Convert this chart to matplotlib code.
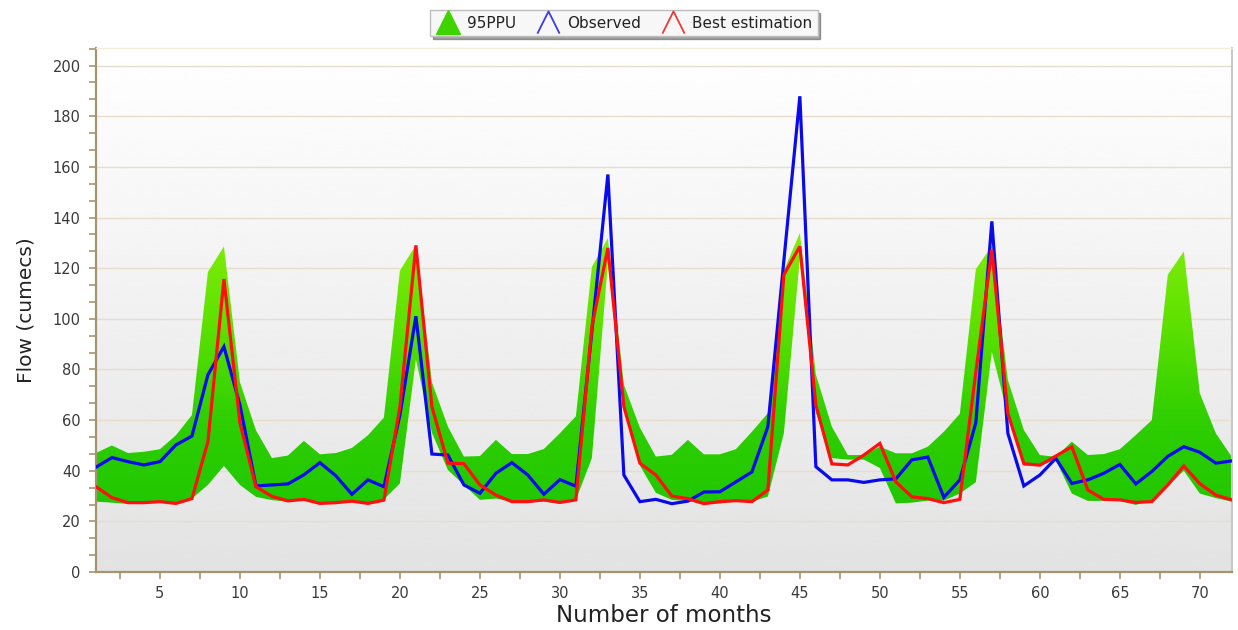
import numpy as np
import matplotlib
matplotlib.use("Agg")
import matplotlib.pyplot as plt
from matplotlib.path import Path
from matplotlib.lines import Line2D
from matplotlib.ticker import MultipleLocator
from matplotlib.colors import LinearSegmentedColormap

# Monthly flow (cumecs)
months = list(range(1, 73))

ppu_upper = [47, 50, 47, 47.5, 48.5, 54, 62, 118.5, 128.6, 75,
             56, 45, 46, 51.8, 46.5, 47, 49, 54, 61, 119,
             129.2, 75, 57.4, 45.6, 45.8, 52.2, 46.6, 46.6, 48.6, 54.8,
             61.5, 120.5, 131.9, 74, 57, 45.6, 46.3, 52.2, 46.5, 46.5,
             48.5, 55.4, 62.7, 119, 133.9, 78, 57.4, 46.2, 46.2, 49.5,
             46.9, 46.9, 49.5, 55.4, 62.5, 119.6, 128.8, 75.9, 56.1, 46.2,
             45.5, 51.5, 46.2, 46.6, 48.5, 54.1, 60, 117.4, 126.6, 70.6,
             54.8, 45.5]

ppu_lower = [27.8, 27.4, 26.9, 27, 27.5, 27.5, 29, 34.4, 41.9, 34.4,
             29.7, 28.4, 27.8, 28.4, 27, 27, 28, 27, 28.7, 35,
             84, 55, 40.3, 34.4, 28.5, 29, 27.8, 27.8, 27.8, 27,
             28.5, 45, 122, 65, 42, 31.3, 28.5, 28, 27, 27.1,
             27.8, 27.8, 29.8, 54.8, 124, 63, 45, 44.4, 44.4, 41.1,
             27.1, 27.4, 28.2, 28.2, 31, 35.5, 87, 62, 42, 42,
             44.2, 31, 28.1, 28.1, 28.1, 26.5, 28.5, 34, 40, 31,
             29.2, 27.8]

observed = [41.4, 45.2, 43.6, 42.3, 43.6, 50.2, 53.7, 77.9, 89, 66,
            34, 34.4, 34.8, 38.4, 43.2, 38, 30.7, 36.4, 33.7, 62,
            101, 46.6, 46.2, 34.4, 31.1, 39, 43.2, 38.3, 30.7, 36.5,
            33.9, 95, 157, 38.3, 27.8, 28.7, 27, 28, 31.6, 31.7,
            35.6, 39.5, 57.4, 123, 187.9, 41.6, 36.4, 36.4, 35.4, 36.4,
            36.8, 44.3, 45.4, 29.5, 36.4, 59, 138.5, 54.8, 34, 38.3,
            44.9, 35, 36.4, 39, 42.5, 34.8, 39.7, 45.7, 49.5, 47.3,
            43, 43.9]

best_estimation = [33.7, 29.4, 27.4, 27.4, 27.8, 27.1, 29, 51.5, 115.7, 58.9,
                   33.7, 29.9, 28.1, 28.7, 27.1, 27.4, 28, 27.1, 28.4, 65.3,
                   129, 65.3, 43, 42.8, 34.4, 30.4, 27.8, 27.8, 28.5, 27.5,
                   28.5, 97, 128, 65.3, 43, 38.3, 30, 29, 27, 27.8,
                   28.2, 27.8, 32.4, 117.4, 128.6, 66, 42.7, 42.3, 46.2, 50.8,
                   35.6, 29.7, 29, 27.4, 28.7, 79, 127.3, 62.7, 42.8, 42.2,
                   45.8, 49.5, 32.4, 28.7, 28.5, 27.5, 27.8, 34.4, 41.9, 34.9,
                   30.4, 28.5]

legend_labels = ["95PPU", "Observed", "Best estimation"]

X_MIN, X_MAX = 1, 72
Y_MIN, Y_MAX = 0, 207

tan = "#a8936f"
plt.rcParams["font.family"] = ["DejaVu Sans"]

fig = plt.figure(figsize=(12.38, 6.30), dpi=100)
fig.patch.set_facecolor("white")
ax = fig.add_axes([0.0775, 0.092, 0.9175, 0.832])

# Soft vertical background gradient
bg = np.linspace(0.89, 1.0, 256).reshape(-1, 1)
ax.imshow(bg, extent=[0, 1, 0, 1], transform=ax.transAxes, aspect="auto",
          origin="lower", cmap="gray", vmin=0, vmax=1, zorder=-10,
          interpolation="bicubic")

# Uncertainty band filled with a green gradient
band = ax.fill_between(months, ppu_lower, ppu_upper, facecolor="none",
                       edgecolor="none", zorder=1)
green_cmap = LinearSegmentedColormap.from_list(
    "band", ["#1ec600", "#2fcf00", "#60e200", "#88ef0c"])
grad = np.linspace(0, 1, 512).reshape(-1, 1)
img = ax.imshow(grad, extent=[X_MIN, X_MAX, 20, 140], aspect="auto",
                origin="lower", cmap=green_cmap, zorder=1,
                interpolation="bicubic")
img.set_clip_path(band.get_paths()[0], transform=ax.transData)
# lower part of band below 20 keeps bottom colour
img2 = ax.imshow(np.zeros((2, 2)), extent=[X_MIN, X_MAX, 0, 20],
                 aspect="auto", origin="lower", cmap=green_cmap, vmin=0,
                 vmax=1, zorder=1)
img2.set_clip_path(band.get_paths()[0], transform=ax.transData)

ax.plot(months, observed, color="#0a0aee", lw=2.3, zorder=3,
        solid_joinstyle="miter")
ax.plot(months, best_estimation, color="#ff0f0f", lw=2.3, zorder=4,
        solid_joinstyle="miter")

ax.set_xlim(X_MIN, X_MAX)
ax.set_ylim(Y_MIN, Y_MAX)

ax.xaxis.set_major_locator(MultipleLocator(5))
ax.xaxis.set_minor_locator(MultipleLocator(2.5))
ax.yaxis.set_major_locator(MultipleLocator(20))
ax.yaxis.set_minor_locator(MultipleLocator(20 / 3))

ax.set_axisbelow(True)
ax.grid(axis="y", which="major", color="#e8dccb", lw=1.0, zorder=0.5)

for side in ("left", "bottom"):
    ax.spines[side].set_color(tan)
    ax.spines[side].set_linewidth(1.6)
ax.spines["right"].set_color("#c8c8c8")
ax.spines["right"].set_linewidth(1.5)
ax.spines["top"].set_color("#f3ecd8")
ax.spines["top"].set_linewidth(1.0)

ax.tick_params(which="both", direction="out", length=5, width=1.2,
               color=tan, labelcolor="#3a3a3a", labelsize=10.5)
ax.tick_params(axis="x", pad=5)
ax.tick_params(axis="y", pad=6)
ax.tick_params(which="both", top=False, right=False)

ax.set_xlabel("Number of months", fontsize=16.5, color="#222222", labelpad=2)
ax.set_ylabel("Flow (cumecs)", fontsize=14.5, color="#222222", labelpad=12)

# Legend with caret-shaped line glyphs
caret = Path([(-1, -1), (0, 1), (1, -1)],
             [Path.MOVETO, Path.LINETO, Path.LINETO])
handles = [
    Line2D([], [], linestyle="none", marker="^", markersize=17,
           markerfacecolor="#3fd400", markeredgecolor="#3fd400"),
    Line2D([], [], linestyle="none", marker=caret, markersize=16,
           markerfacecolor="none", markeredgecolor="#3a3aee",
           markeredgewidth=1.3),
    Line2D([], [], linestyle="none", marker=caret, markersize=16,
           markerfacecolor="none", markeredgecolor="#ee3a3a",
           markeredgewidth=1.3),
]
leg = fig.legend(handles, legend_labels, loc="center",
                 bbox_to_anchor=(0.504, 0.963), ncol=3, frameon=True,
                 fancybox=False, shadow=True, fontsize=11,
                 handlelength=1.6, handletextpad=0.45, columnspacing=1.3,
                 borderpad=0.35, labelcolor="#222222")
leg.get_frame().set_edgecolor("#bdbdbd")
leg.get_frame().set_facecolor("#f7f7f7")
leg.get_frame().set_linewidth(1.0)

fig.savefig("out.png", dpi=100, facecolor="white")
